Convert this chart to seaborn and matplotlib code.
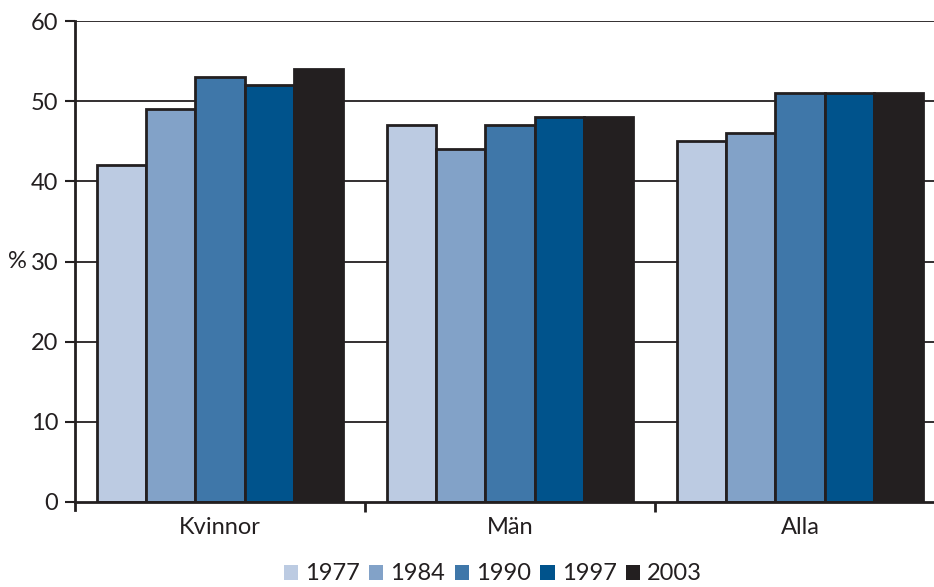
import matplotlib
matplotlib.use("Agg")
import matplotlib.pyplot as plt
import matplotlib.transforms as mtransforms
from matplotlib.patches import Patch
import seaborn as sns
import pandas as pd

categories = ["Kvinnor", "Män", "Alla"]
years = ["1977", "1984", "1990", "1997", "2003"]
v1977 = [42, 47, 45]
v1984 = [49, 44, 46]
v1990 = [53, 47, 51]
v1997 = [52, 48, 51]
v2003 = [54, 48, 51]
colors = ["#bccbe2", "#82a2c8", "#3f77a9", "#00538c", "#231f20"]

rows = []
for yr, vals in zip(years, [v1977, v1984, v1990, v1997, v2003]):
    for c, v in zip(categories, vals):
        rows.append({"cat": c, "year": yr, "val": v})
df = pd.DataFrame(rows)

sns.set_theme(style="white")
plt.rcParams["font.family"] = ["Lato", "DejaVu Sans"]

FS = 17

fig = plt.figure(figsize=(9.34, 5.87), dpi=100)
ax = fig.add_axes([75/934, 85/587, 870/934, 481/587])

ax.set_axisbelow(True)
for y in range(10, 70, 10):
    ax.axhline(y, color="#231f20", lw=1.3, zorder=0)

sns.barplot(data=df, x="cat", y="val", hue="year", order=categories,
            hue_order=years, palette=colors, width=0.85, gap=0,
            edgecolor="#231f20", linewidth=2.0, ax=ax, legend=False,
            saturation=1, zorder=2)

ax.set_xlim(-0.5, 2.5)
ax.set_ylim(0, 60)
ax.set_yticks(range(0, 70, 10))
ax.set_xlabel("")
ax.set_ylabel("")
for s in ["top", "right"]:
    ax.spines[s].set_visible(False)
for s in ["left", "bottom"]:
    ax.spines[s].set_color("#231f20")
    ax.spines[s].set_linewidth(2.0)
ax.spines["left"].set_bounds(-1.0, 60)

ax.tick_params(axis="y", direction="out", length=7, width=1.5, color="#231f20",
               labelsize=FS, labelcolor="#231f20", pad=5, left=True)
ax.tick_params(axis="x", which="major", length=0, labelsize=FS,
               labelcolor="#231f20", pad=11)
ax.set_xticks([0.5, 1.5], minor=True)
ax.tick_params(axis="x", which="minor", direction="out", length=7, width=2.0,
               color="#231f20", bottom=True)

trans = mtransforms.blended_transform_factory(ax.transAxes, ax.transData)
ax.text(-0.066, 30, "%", transform=trans, ha="center", va="center",
        fontsize=FS, color="#231f20")

handles = [Patch(facecolor=c, edgecolor="none") for c in colors]
fig.legend(handles, years, loc="center", bbox_to_anchor=(493/934, 1 - 574/587),
           ncol=5, frameon=False, fontsize=FS, handlelength=0.6,
           handleheight=0.6, handletextpad=0.3, columnspacing=0.4,
           labelcolor="#231f20", borderaxespad=0, borderpad=0)

fig.savefig("out.png", dpi=100)
